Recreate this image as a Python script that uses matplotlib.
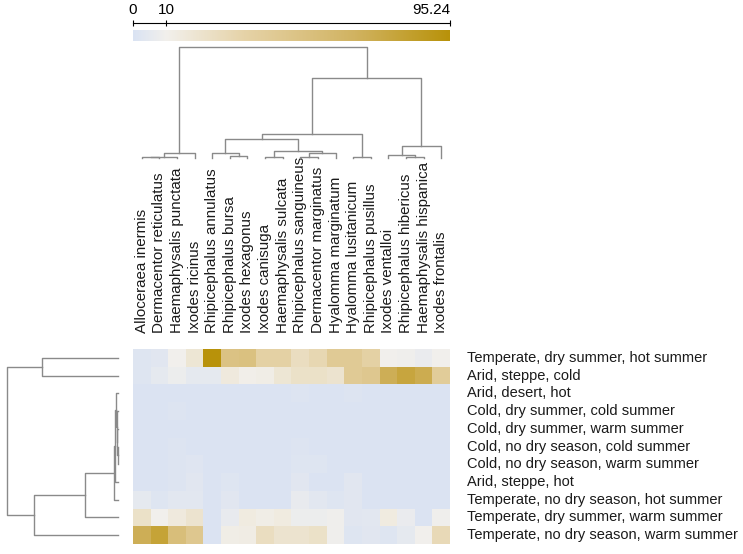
import numpy as np
import matplotlib
matplotlib.use("Agg")
import matplotlib.pyplot as plt
from matplotlib.colors import LinearSegmentedColormap

species = ["Alloceraea inermis", "Dermacentor reticulatus", "Haemaphysalis punctata",
           "Ixodes ricinus", "Rhipicephalus annulatus", "Rhipicephalus bursa",
           "Ixodes hexagonus", "Ixodes canisuga", "Haemaphysalis sulcata",
           "Rhipicephalus sanguineus", "Dermacentor marginatus", "Hyalomma marginatum",
           "Hyalomma lusitanicum", "Rhipicephalus pusillus", "Ixodes ventalloi",
           "Rhipicephalus hibericus", "Haemaphysalis hispanica", "Ixodes frontalis"]

climates = ["Temperate, dry summer, hot summer", "Arid, steppe, cold", "Arid, desert, hot",
            "Cold, dry summer, cold summer", "Cold, dry summer, warm summer",
            "Cold, no dry season, cold summer", "Cold, no dry season, warm summer",
            "Arid, steppe, hot", "Temperate, no dry season, hot summer",
            "Temperate, dry summer, warm summer", "Temperate, no dry season, warm summer"]

row_temp_dry_hot = [2, 3, 10, 18, 95.24, 50, 52, 35, 35, 25, 30, 42, 42, 35, 10, 9, 7, 10]
row_arid_steppe_cold = [2, 5, 8, 5, 5, 15, 11, 12, 18, 22, 22, 20, 42, 45, 70, 78, 72, 40]
row_arid_desert_hot = [1, 1, 1, 1, 1, 1, 1, 1, 1, 1.5, 1, 1, 1.5, 1, 1, 1, 1, 1]
row_cold_dry_cold = [1, 1, 1.5, 1, 1, 1, 1, 1, 1, 1, 1, 1, 1, 1, 1, 1, 1, 1]
row_cold_dry_warm = [1, 1, 1, 1, 1, 1, 1, 1, 1, 1, 1, 1, 1, 1, 1, 1, 1, 1]
row_cold_nodry_cold = [1, 1, 1.5, 1, 1, 1, 1, 1, 1, 1.5, 1, 1, 1, 1, 1, 1, 1, 1]
row_cold_nodry_warm = [1, 1, 1.5, 2.5, 1, 1, 1, 1, 1, 2, 2, 1, 1, 1, 1, 1, 1, 1]
row_arid_steppe_hot = [1, 1, 1.5, 3, 1, 2, 1, 1, 1, 3, 1, 1, 3, 1, 1, 1, 1, 1]
row_temp_nodry_hot = [5, 2, 4, 4, 1, 3, 1, 1, 1, 6, 4, 2, 3, 1, 1, 1, 1, 1]
row_temp_dry_warm = [22, 10, 15, 20, 1, 6, 14, 12, 14, 8, 8, 9, 3, 4, 14, 7, 1, 9]
row_temp_nodry_warm = [70, 80, 55, 45, 1, 12, 13, 25, 20, 20, 22, 9, 2, 3, 2, 5, 10, 28]

col_merges = [(0, 1, 0.7), (18, 2, 1.3), (19, 3, 5.5), (5, 6, 2.3), (4, 21, 4.7),
              (7, 8, 0.7), (9, 10, 1.3), (24, 11, 4.7), (23, 25, 7.3), (22, 26, 19),
              (12, 13, 1.5), (27, 28, 24), (15, 16, 1.0), (14, 30, 3.0), (31, 17, 12),
              (29, 32, 80), (20, 33, 111)]
row_merges = [(5, 6, 0.5), (4, 11, 0.9), (3, 12, 1.3), (2, 13, 1.7), (14, 7, 3.3),
              (15, 8, 4.2), (16, 9, 32.6), (17, 10, 84), (0, 1, 76), (19, 18, 111)]

cbar_ticks = [0, 10, 95.24]
cbar_labels = ['0', '10', '95.24']
vmax = 95.24

data = np.array([row_temp_dry_hot, row_arid_steppe_cold, row_arid_desert_hot,
                 row_cold_dry_cold, row_cold_dry_warm, row_cold_nodry_cold,
                 row_cold_nodry_warm, row_arid_steppe_hot, row_temp_nodry_hot,
                 row_temp_dry_warm, row_temp_nodry_warm])

cmap = LinearSegmentedColormap.from_list(
    "bluegold", [(0.0, "#dae3f3"), (0.105, "#f2f0ec"), (0.35, "#e6d3a8"),
                 (0.7, "#d1b361"), (1.0, "#b8920a")])

plt.rcParams['font.family'] = ['Liberation Sans', 'DejaVu Sans']
FS = 10.5
FS_COL = 10.9
W, H = 743, 554
fig = plt.figure(figsize=(W / 100, H / 100), dpi=100)


def fax(x0, y0, x1, y1):
    return fig.add_axes([x0 / W, 1 - y1 / H, (x1 - x0) / W, (y1 - y0) / H])


hx0, hx1, hy0, hy1 = 133, 450, 349, 544
ax = fax(hx0, hy0, hx1, hy1)
ax.imshow(data, cmap=cmap, vmin=0, vmax=vmax, aspect='auto',
          extent=(0, data.shape[1], data.shape[0], 0), interpolation='nearest')
ax.set_xlim(0, data.shape[1]); ax.set_ylim(data.shape[0], 0)
ax.axis('off')
for i, s in enumerate(species):
    ax.text(i + 0.5, -0.9, s, rotation=90, ha='center', va='bottom', fontsize=FS_COL,
            color='#1a1a1a')
for j, c in enumerate(climates):
    ax.text(data.shape[1] + 0.95, j + 0.5, c, ha='left', va='center', fontsize=FS,
            color='#1a1a1a')


def dendro(merges, n):
    pos = {i: i + 0.5 for i in range(n)}
    hgt = {i: 0.0 for i in range(n)}
    segs = []
    for k, (a, b, h) in enumerate(merges):
        xa, xb = pos[a], pos[b]
        segs.append(([xa, xa, xb, xb], [hgt[a], h, h, hgt[b]]))
        pos[n + k] = (xa + xb) / 2
        hgt[n + k] = h
    return segs


lc = '#8a8a8a'
# column dendrogram
axc = fax(hx0, 47, hx1, 158)
for xs, hs in dendro(col_merges, len(species)):
    axc.plot(xs, hs, color=lc, lw=1.0, clip_on=False)
axc.set_xlim(0, len(species)); axc.set_ylim(0, 111)
axc.axis('off')

# row dendrogram
axr = fax(7, hy0, 118, hy1)
for xs, hs in dendro(row_merges, len(climates)):
    axr.plot(hs, xs, color=lc, lw=1.0, clip_on=False)
axr.set_xlim(111, 0); axr.set_ylim(len(climates), 0)
axr.axis('off')

# colorbar
axb = fax(hx0, 30, hx1, 41)
grad = np.linspace(0, vmax, 512).reshape(1, -1)
axb.imshow(grad, cmap=cmap, vmin=0, vmax=vmax, aspect='auto', extent=(0, vmax, 0, 1))
axb.set_xlim(0, vmax); axb.set_ylim(0, 1)
for sp in ['bottom', 'left', 'right']:
    axb.spines[sp].set_visible(False)
axb.spines['top'].set_position(('outward', 5))
axb.spines['top'].set_linewidth(0.8)
axb.set_yticks([])
axb.xaxis.tick_top()
axb.set_xticks(cbar_ticks)
axb.set_xticklabels(cbar_labels)
axb.tick_params(axis='x', direction='inout', length=5, width=0.8, labelsize=FS + 0.5, pad=2)
axb.get_xticklabels()[-1].set_horizontalalignment('right')

fig.savefig('out.png', dpi=100)
